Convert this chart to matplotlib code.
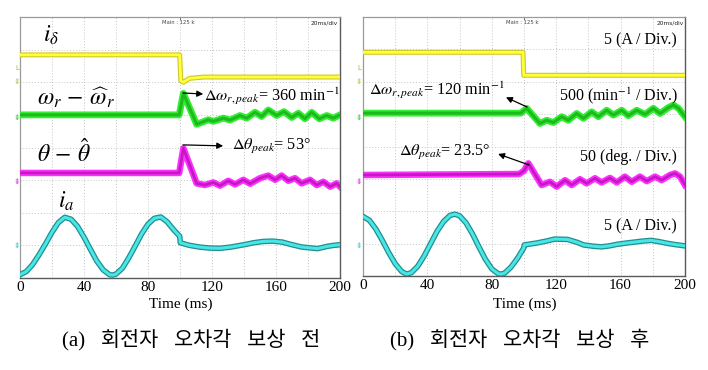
"""
plot.py - rotor error angle compensation scope captures, (a) before / (b) after.

Values are read off the scope screenshots: time in ms, level in screen
divisions (0 = bottom graticule line, 8 = top).
"""
import matplotlib

matplotlib.use("Agg")
import matplotlib.pyplot as plt

plt.rcParams["font.family"] = ["Liberation Serif", "DejaVu Serif"]
plt.rcParams["mathtext.fontset"] = "stix"

# ---- (a) before compensation ----
a_idelta_t = [0, 99.8, 100.5, 102, 106, 115, 200]
a_idelta_v = [6.84, 6.84, 6.05, 6.0, 6.12, 6.16, 6.16]

a_omega_t = [0, 99.5, 102.1, 110.4, 117.7, 120.8, 127.1, 131.3, 137.5, 141.7, 146.9, 151.0,
             155.2, 160.4, 165.0, 169.8, 174.0, 178.1, 182.3, 187.1, 191.7, 195.8, 200]
a_omega_v = [5.0, 5.0, 5.66, 4.71, 4.85, 4.80, 4.90, 4.84, 4.98, 4.90, 5.08, 4.95,
             5.15, 4.98, 5.10, 4.92, 5.05, 4.88, 5.08, 4.88, 4.98, 4.90, 5.0]

a_theta_t = [0, 99.5, 102.1, 110.4, 115.6, 120.8, 125.0, 130.2, 134.4, 139.6, 143.8, 150.0,
             155.2, 159.4, 163.5, 167.7, 171.9, 176.0, 181.3, 185.4, 189.6, 193.8, 197.9, 200]
a_theta_v = [3.22, 3.22, 3.98, 2.90, 2.85, 2.93, 2.83, 2.98, 2.87, 3.01, 2.89, 3.06,
             3.14, 3.01, 3.14, 2.98, 3.06, 2.90, 3.01, 2.85, 2.95, 2.80, 2.90, 2.80]

a_ia_t = [0, 4, 8, 12, 16, 20, 24, 28, 32, 36, 40, 44, 48, 52, 56, 58, 60, 64, 68, 72, 76,
          80, 84, 88, 92, 96, 99.8, 100.2, 106, 112, 118, 125, 132, 140, 146, 152, 158,
          164, 170, 176, 182, 186, 192, 196, 200]
a_ia_v = [0.10, 0.20, 0.42, 0.72, 1.05, 1.40, 1.70, 1.86, 1.80, 1.58, 1.25, 0.88, 0.52,
          0.25, 0.10, 0.09, 0.12, 0.30, 0.62, 0.98, 1.35, 1.65, 1.83, 1.87, 1.72, 1.48,
          1.28, 1.08, 1.00, 0.95, 0.92, 0.91, 0.95, 1.02, 1.08, 1.12, 1.13, 1.10, 1.02,
          0.95, 0.92, 0.90, 0.97, 1.00, 1.02]

# ---- (b) after compensation ----
b_idelta_t = [0, 99.4, 99.8, 200]
b_idelta_v = [6.91, 6.91, 6.20, 6.20]

b_omega_t = [0, 98, 101.7, 109.9, 114.1, 118.2, 123.4, 127.5, 132.7, 136.9, 142.0, 146.2,
             151.4, 155.5, 160.7, 164.8, 170.0, 175.2, 180.3, 184.5, 189.6, 192.8, 195.9, 200]
b_omega_v = [5.03, 5.03, 5.18, 4.71, 4.81, 4.74, 4.92, 4.81, 5.02, 4.87, 5.07, 4.92,
             5.12, 4.97, 5.12, 4.95, 5.12, 4.99, 5.18, 5.02, 5.20, 5.28, 5.18, 4.92]

b_theta_t = [0, 97, 100, 102.7, 110.9, 116.1, 120.3, 125.5, 129.6, 134.8, 138.9, 144.1,
             148.2, 153.4, 157.6, 162.7, 166.9, 172.0, 176.2, 181.4, 185.5, 190.7, 193.8,
             196.9, 200]
b_theta_v = [3.12, 3.15, 3.25, 3.48, 2.81, 2.91, 2.76, 2.96, 2.81, 2.99, 2.86, 3.02,
             2.89, 3.03, 2.89, 3.07, 2.91, 3.07, 2.93, 3.07, 2.96, 3.12, 3.17, 3.07, 2.81]

b_ia_t = [0, 4, 8, 12, 16, 20, 24, 27, 30, 34, 38, 42, 46, 50, 54, 57, 60, 64, 68, 72, 76,
          80, 84, 86, 88, 92, 96, 99.8, 100.2, 108, 114, 119, 127, 133, 137, 143, 148, 153,
          158, 164, 169, 174, 179, 184, 189, 194, 200]
b_ia_v = [1.84, 1.72, 1.45, 1.10, 0.72, 0.38, 0.14, 0.06, 0.10, 0.30, 0.62, 1.00, 1.38,
          1.68, 1.87, 1.91, 1.86, 1.64, 1.30, 0.90, 0.52, 0.22, 0.07, 0.06, 0.09, 0.28,
          0.55, 0.86, 0.96, 1.02, 1.08, 1.14, 1.13, 1.04, 0.96, 0.92, 0.90, 0.93, 0.98,
          1.02, 1.05, 1.08, 1.10, 1.06, 1.01, 0.97, 0.93]

time_ticks = [0, 40, 80, 120, 160, 200]

W, H = 708, 370
fig = plt.figure(figsize=(W / 100, H / 100), dpi=100)


def px_axes(x0, y0, x1, y1):
    return fig.add_axes([x0 / W, 1 - y1 / H, (x1 - x0) / W, (y1 - y0) / H])


def ftext(x, y, s, **kw):
    return fig.text(x / W, 1 - y / H, s, **kw)


def scope(ax):
    ax.set_xlim(0, 200)
    ax.set_ylim(0, 8)
    for t in range(20, 200, 20):
        ax.axvline(t, color="#c4c4c4", lw=0.7, ls=(0, (1, 2)), zorder=0)
    for d in range(1, 8):
        ax.axhline(d, color="#c4c4c4", lw=0.7, ls=(0, (1, 2)), zorder=0)
    ax.set_yticks([])
    ax.set_xticks(time_ticks)
    ax.set_xticklabels([str(t) for t in time_ticks])
    ax.tick_params(axis="x", length=0, pad=2, labelsize=11)
    for side in ("left", "top"):
        ax.spines[side].set_color("#9a9a9a")
        ax.spines[side].set_linewidth(0.9)
    for side in ("right", "bottom"):
        ax.spines[side].set_color("#5a5a5a")
        ax.spines[side].set_linewidth(1.0)
    # small centre mark on top edge
    ax.plot([100, 100], [7.93, 8.0], color="#777777", lw=0.8, clip_on=False)


def trace(ax, t, v, outer, inner, lw_out, lw_in):
    ax.plot(t, v, color=outer, lw=lw_out, solid_joinstyle="round", zorder=3)
    ax.plot(t, v, color=inner, lw=lw_in, solid_joinstyle="round", zorder=4)


YEL = ("#cfc82a", "#ffff3a")
GRN = ("#30ee30", "#1fb81f")
MAG = ("#ff30ff", "#c418c4")
CYN = ("#238e8e", "#48e6e6")

ax_a = px_axes(20, 17, 340, 278)
ax_b = px_axes(363, 17, 685, 276)

for ax in (ax_a, ax_b):
    scope(ax)

trace(ax_a, a_idelta_t, a_idelta_v, *YEL, 3.6, 2.0)
trace(ax_a, a_omega_t, a_omega_v, *GRN, 4.9, 2.2)
trace(ax_a, a_theta_t, a_theta_v, *MAG, 4.7, 2.0)
trace(ax_a, a_ia_t, a_ia_v, *CYN, 4.0, 2.2)

trace(ax_b, b_idelta_t, b_idelta_v, *YEL, 3.6, 2.0)
trace(ax_b, b_omega_t, b_omega_v, *GRN, 4.9, 2.2)
trace(ax_b, b_theta_t, b_theta_v, *MAG, 4.7, 2.0)
trace(ax_b, b_ia_t, b_ia_v, *CYN, 4.0, 2.2)

# channel names (a)
lab = dict(fontsize=17, ha="left", va="center", zorder=6)
ax_a.text(14.4, 7.45, r"$i_\delta$", **lab)
ax_a.text(10.6, 5.52, r"$\omega_r\,-\,\widehat{\omega}_r$", **lab)
ax_a.text(10.6, 3.83, r"$\theta\,-\,\hat{\theta}$", **lab)
ax_a.text(23.7, 2.36, r"$i_a$", **lab)

# peak annotations
arrow = dict(arrowstyle="-|>", color="black", lw=0.9, mutation_scale=9,
             shrinkA=0, shrinkB=0)
note = dict(fontsize=11.7, ha="left", va="center", zorder=6)
ax_a.annotate("", xy=(114.5, 5.64), xytext=(101.9, 5.67), arrowprops=arrow, zorder=6)
ax_a.text(114.8, 5.58, r"$\Delta\omega_{r,peak}$= 360 min$^{-1}$", **note)
ax_a.annotate("", xy=(127, 4.05), xytext=(101.9, 4.08), arrowprops=arrow, zorder=6)
ax_a.text(132.5, 4.02, r"$\Delta\theta_{peak}$= 53°", **note)

ax_b.annotate("", xy=(88.8, 5.52), xytext=(101.9, 5.22), arrowprops=arrow, zorder=6)
ax_b.text(3.7, 5.74, r"$\Delta\omega_{r,peak}$= 120 min$^{-1}$", **note)
ax_b.annotate("", xy=(83.9, 3.77), xytext=(103.1, 3.43), arrowprops=arrow, zorder=6)
ax_b.text(22.4, 3.80, r"$\Delta\theta_{peak}$= 23.5°", **note)

# scale factors (b)
scale = dict(fontsize=11.5, ha="right", va="center", zorder=6)
ax_b.text(195, 7.28, "5 (A / Div.)", **scale)
ax_b.text(195.7, 5.56, "500 (min$^{-1}$ / Div.)", **scale)
ax_b.text(195, 3.67, "50 (deg. / Div.)", **scale)
ax_b.text(195, 1.54, "5 (A / Div.)", **scale)

# scope header and ground markers
for x_main, x_div, y_mark in ((178, 338, 17), (522, 684, 359)):
    ftext(x_main, 23, "Main : 125 k", fontsize=3.8, family="DejaVu Sans",
          ha="center", va="center", color="#444444")
    ftext(x_div, 23, "20ms/div", fontsize=4.2, family="DejaVu Sans",
          ha="right", va="center", color="#222222")
    ftext(y_mark, 68, "L", fontsize=5, family="DejaVu Sans", ha="center",
          va="center", color="#b8b020")
    for yy, col in ((82, "#c8c040"), (117, "#3cc83c"), (181, "#d040d0"),
                    (246, "#40c8c8")):
        ftext(y_mark, yy, "⇟", fontsize=5.5, family="DejaVu Sans", ha="center",
              va="center", color=col)

# axis titles and captions
ftext(181, 304, "Time (ms)", fontsize=11, ha="center", va="center")
ftext(525, 304, "Time (ms)", fontsize=11, ha="center", va="center")

cap = dict(fontsize=15, ha="center", va="center",
           family=["Liberation Serif", "Noto Sans CJK KR"])
ftext(191, 340, "(a)   회전자   오차각   보상   전", **cap)
ftext(520, 340, "(b)   회전자   오차각   보상   후", **cap)

fig.savefig("out.png", dpi=100)
